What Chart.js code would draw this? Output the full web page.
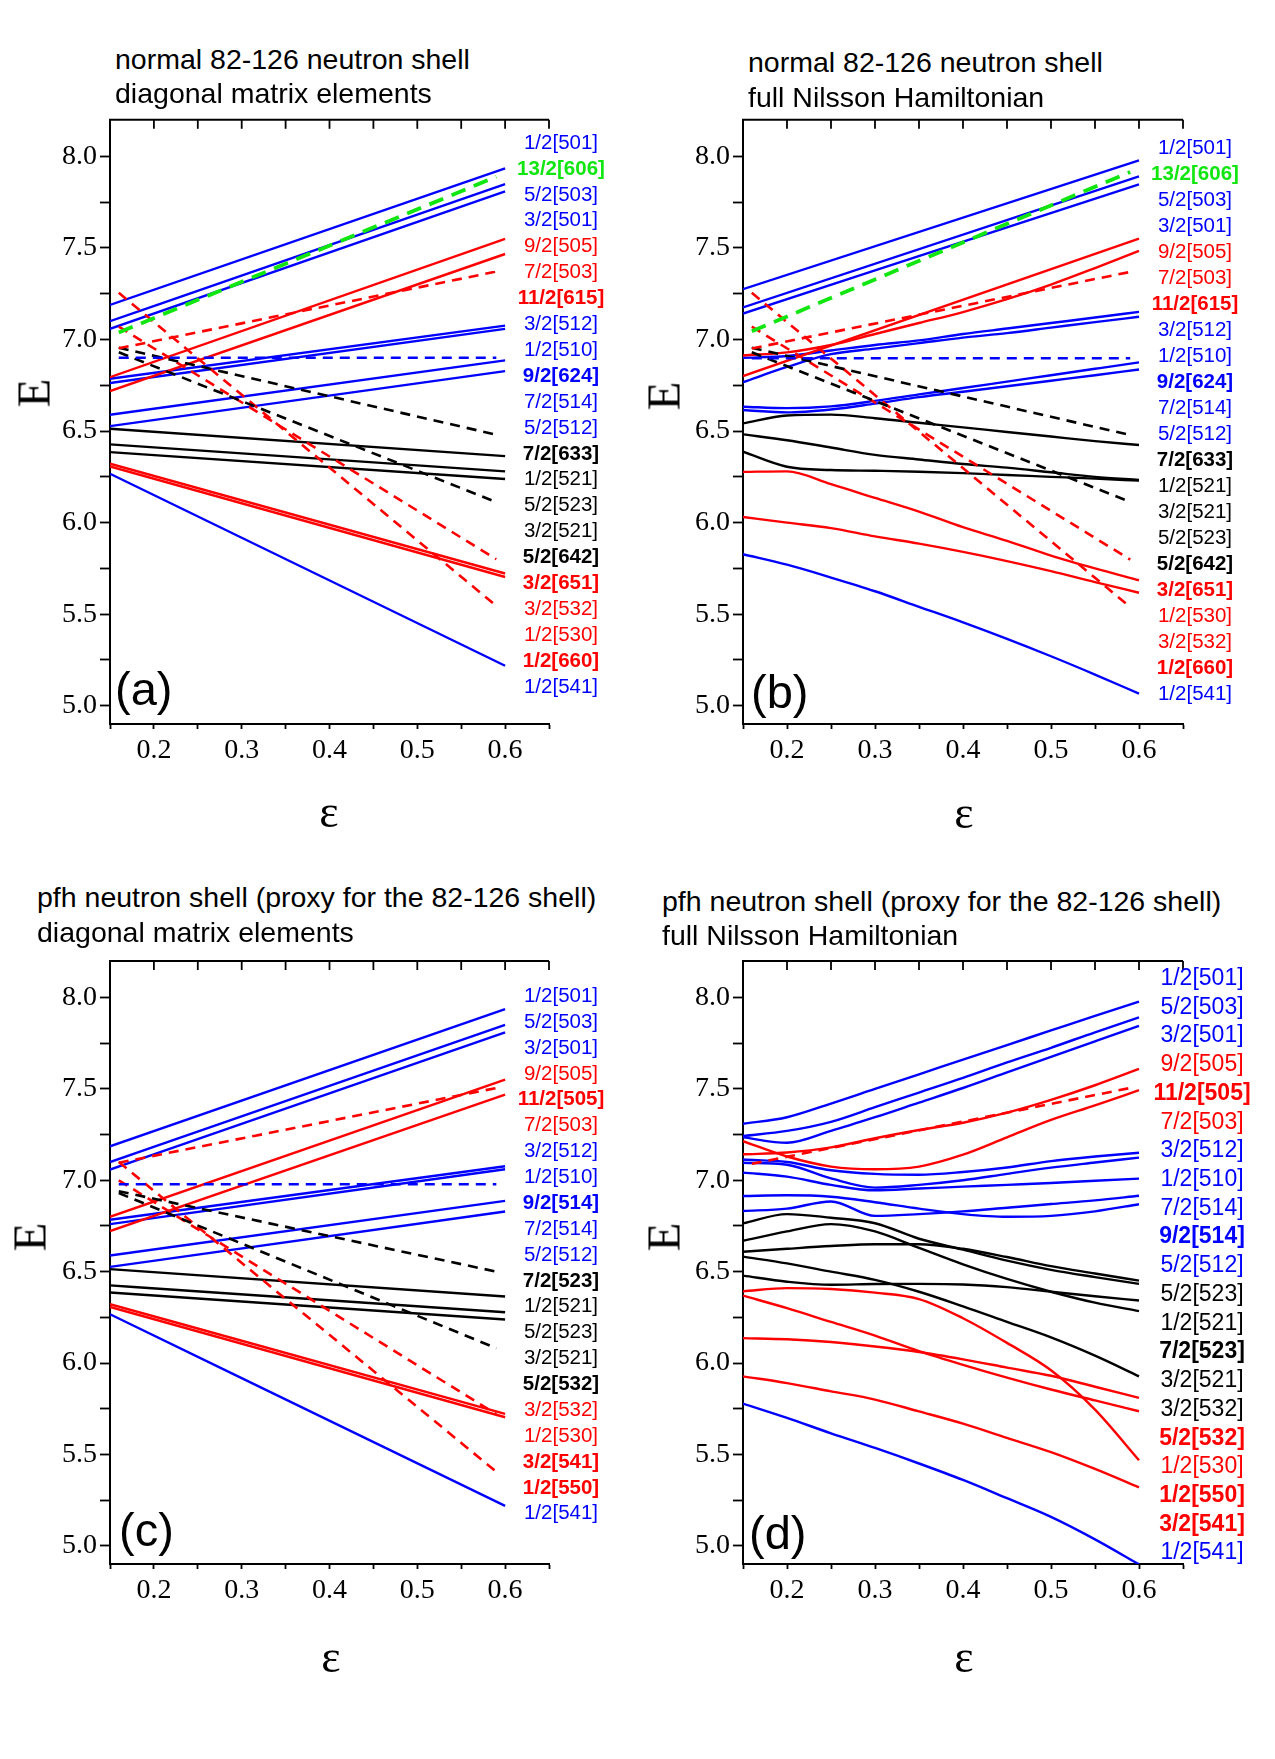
<!DOCTYPE html>
<html>
<head>
<meta charset="utf-8">
<script src="https://cdn.jsdelivr.net/npm/chart.js@4.4.1/dist/chart.umd.min.js"></script>
<style>
  html, body { margin: 0; padding: 0; background: #fff; }
  body { width: 1275px; height: 1759px; position: relative; overflow: hidden;
         font-family: "Liberation Sans", Arial, sans-serif; color: #000; }
  canvas { position: absolute; }
  .t { position: absolute; white-space: nowrap; line-height: 1; }
  .title { font-size: 28.5px; transform: translateY(-50%); }
  .lvl { transform: translate(-50%, -50%); }
  .lvl.b { font-weight: bold; }
  .ylab { font-family: "Liberation Serif", serif; font-size: 47px; transform: translate(-50%, -50%) rotate(-90deg); }
  .xlab { font-family: "Liberation Serif", serif; font-size: 46px; transform: translate(-50%, -50%); }
  .tag { font-size: 47px; transform: translateY(-50%); }
</style>
</head>
<body>
<script>
// deformation grids
const epsEnds = [0.15, 0.60];
const epsIntruder = [0.16, 0.59];
const epsGrid = [0.15, 0.20, 0.25, 0.30, 0.35, 0.40, 0.45, 0.50, 0.55, 0.60];

const xTickLabels = [0.2, 0.3, 0.4, 0.5, 0.6];
const yTickLabels = [5.0, 5.5, 6.0, 6.5, 7.0, 7.5, 8.0];

// (a) normal 82-126 shell, diagonal matrix elements
const labelsA = ['1/2[501]', '13/2[606]', '5/2[503]', '3/2[501]', '9/2[505]', '7/2[503]', '11/2[615]',
  '3/2[512]', '1/2[510]', '9/2[624]', '7/2[514]', '5/2[512]', '7/2[633]', '1/2[521]', '5/2[523]',
  '3/2[521]', '5/2[642]', '3/2[651]', '3/2[532]', '1/2[530]', '1/2[660]', '1/2[541]'];
const energyA = [
  [7.189, 7.935], [7.038, 7.889], [7.100, 7.849], [7.058, 7.809], [6.794, 7.549], [6.718, 7.467],
  [6.952, 7.371], [6.786, 7.076], [6.762, 7.058], [6.900, 6.900], [6.589, 6.886], [6.527, 6.827],
  [6.955, 6.480], [6.513, 6.363], [6.427, 6.280], [6.385, 6.238], [6.930, 6.112], [7.070, 5.800],
  [6.322, 5.722], [6.307, 5.703], [7.255, 5.545], [6.267, 5.218]
];

// (b) normal 82-126 shell, full Nilsson Hamiltonian
const labelsB = ['1/2[501]', '13/2[606]', '5/2[503]', '3/2[501]', '9/2[505]', '7/2[503]', '11/2[615]',
  '3/2[512]', '1/2[510]', '9/2[624]', '7/2[514]', '5/2[512]', '7/2[633]', '1/2[521]', '3/2[521]',
  '5/2[523]', '5/2[642]', '3/2[651]', '1/2[530]', '3/2[532]', '1/2[660]', '1/2[541]'];
const energyB = [
  [7.275, 7.978],
  [7.045, 7.915],
  [7.175, 7.891],
  [7.142, 7.847],
  [6.800, 7.551],
  [6.913, 6.930, 6.970, 7.030, 7.090, 7.150, 7.220, 7.300, 7.390, 7.484],
  [6.951, 7.369],
  [6.900, 6.910, 6.940, 6.970, 6.995, 7.030, 7.060, 7.090, 7.120, 7.151],
  [6.767, 6.850, 6.920, 6.950, 6.980, 7.010, 7.035, 7.065, 7.095, 7.124],
  [6.898, 6.898],
  [6.633, 6.625, 6.635, 6.665, 6.700, 6.735, 6.770, 6.805, 6.840, 6.875],
  [6.615, 6.602, 6.618, 6.650, 6.685, 6.715, 6.745, 6.775, 6.805, 6.836],
  [6.955, 6.478],
  [6.542, 6.585, 6.590, 6.570, 6.545, 6.520, 6.495, 6.470, 6.445, 6.424],
  [6.482, 6.450, 6.410, 6.370, 6.345, 6.320, 6.300, 6.275, 6.250, 6.233],
  [6.387, 6.305, 6.287, 6.283, 6.278, 6.270, 6.260, 6.250, 6.240, 6.229],
  [6.930, 6.113],
  [7.070, 5.798],
  [6.277, 6.280, 6.210, 6.135, 6.060, 5.975, 5.900, 5.820, 5.750, 5.685],
  [6.031, 6.000, 5.970, 5.925, 5.885, 5.840, 5.790, 5.735, 5.675, 5.617],
  [7.255, 5.539],
  [5.827, 5.770, 5.700, 5.625, 5.540, 5.455, 5.365, 5.270, 5.170, 5.066]
];

// (c) pfh proxy shell, diagonal matrix elements
const labelsC = ['1/2[501]', '5/2[503]', '3/2[501]', '9/2[505]', '11/2[505]', '7/2[503]', '3/2[512]',
  '1/2[510]', '9/2[514]', '7/2[514]', '5/2[512]', '7/2[523]', '1/2[521]', '5/2[523]', '3/2[521]',
  '5/2[532]', '3/2[532]', '1/2[530]', '3/2[541]', '1/2[550]', '1/2[541]'];
const energyC = [
  [7.186, 7.936], [7.100, 7.850], [7.059, 7.810], [6.800, 7.551], [7.096, 7.505], [6.722, 7.469],
  [6.784, 7.077], [6.760, 7.060], [6.978, 6.978], [6.588, 6.887], [6.526, 6.829], [6.940, 6.500],
  [6.514, 6.364], [6.425, 6.278], [6.386, 6.238], [6.930, 6.081], [6.322, 5.722], [6.307, 5.703],
  [7.000, 5.720], [7.100, 5.405], [6.267, 5.218]
];

// (d) pfh proxy shell, full Nilsson Hamiltonian
const labelsD = ['1/2[501]', '5/2[503]', '3/2[501]', '9/2[505]', '11/2[505]', '7/2[503]', '3/2[512]',
  '1/2[510]', '7/2[514]', '9/2[514]', '5/2[512]', '5/2[523]', '1/2[521]', '7/2[523]', '3/2[521]',
  '3/2[532]', '5/2[532]', '1/2[530]', '1/2[550]', '3/2[541]', '1/2[541]'];
const energyD = [
  [7.309, 7.345, 7.420, 7.500, 7.580, 7.660, 7.740, 7.820, 7.900, 7.978],
  [7.242, 7.270, 7.320, 7.400, 7.480, 7.560, 7.645, 7.725, 7.810, 7.891],
  [7.235, 7.205, 7.270, 7.345, 7.425, 7.505, 7.590, 7.675, 7.760, 7.845],
  [7.142, 7.152, 7.180, 7.230, 7.275, 7.315, 7.370, 7.440, 7.520, 7.609],
  [7.090, 7.505],
  [7.214, 7.130, 7.075, 7.060, 7.075, 7.140, 7.235, 7.330, 7.410, 7.493],
  [7.114, 7.100, 7.055, 7.035, 7.030, 7.045, 7.070, 7.105, 7.130, 7.151],
  [7.096, 7.085, 7.010, 6.960, 6.975, 7.000, 7.035, 7.069, 7.097, 7.124],
  [7.042, 7.020, 6.975, 6.945, 6.955, 6.965, 6.975, 6.985, 6.997, 7.009],
  [6.914, 6.918, 6.910, 6.880, 6.845, 6.815, 6.800, 6.805, 6.830, 6.869],
  [6.832, 6.845, 6.884, 6.805, 6.815, 6.830, 6.850, 6.870, 6.890, 6.915],
  [6.764, 6.815, 6.795, 6.765, 6.680, 6.620, 6.560, 6.510, 6.470, 6.433],
  [6.609, 6.625, 6.640, 6.650, 6.650, 6.625, 6.580, 6.530, 6.490, 6.451],
  [6.669, 6.720, 6.760, 6.720, 6.630, 6.540, 6.460, 6.390, 6.330, 6.284],
  [6.478, 6.445, 6.428, 6.432, 6.433, 6.430, 6.415, 6.390, 6.365, 6.342],
  [6.582, 6.545, 6.500, 6.455, 6.390, 6.310, 6.225, 6.140, 6.040, 5.927],
  [6.392, 6.410, 6.405, 6.385, 6.350, 6.245, 6.110, 5.960, 5.745, 5.468],
  [6.369, 6.300, 6.225, 6.150, 6.065, 5.990, 5.920, 5.855, 5.795, 5.736],
  [6.136, 6.130, 6.115, 6.090, 6.060, 6.020, 5.975, 5.930, 5.870, 5.809],
  [5.927, 5.890, 5.845, 5.800, 5.735, 5.668, 5.590, 5.512, 5.420, 5.319],
  [5.778, 5.700, 5.615, 5.535, 5.450, 5.360, 5.260, 5.158, 5.035, 4.898]
];

// ---- styling ----
const palette = { b: '#0000ff', r: '#ff0000', k: '#000000', g: '#11e611' };
const colorA = 'bgbbrrrbbbbbkkkkkrrrrb';
const colorC = 'bbbrrrbbbbbkkkkkrrrrb';

// Omega = Lambda + 1/2 and nz + Lambda = N (highest-j orbitals, printed bold)
function isAligned(label) {
  const m = label.match(/^(\d+)\/2\[(\d)(\d)(\d)\]$/);
  const om2 = +m[1], N = +m[2], nz = +m[3], lam = +m[4];
  return om2 === 2 * lam + 1 && nz + lam === N;
}

const panels = [
  { labels: labelsA, energy: energyA, colors: colorA, dashed: isAligned,
    title: ['normal 82-126 neutron shell', 'diagonal matrix elements'], tag: '(a)',
    canvas: [0, 100, 560, 720], area: [110, 119, 549, 724],
    lvl: [561, 141.7, 25.9, 20.5], titleAt: [115, 58.5, 93], eAt: [34, 393], epsAt: [329, 812], tagAt: [115, 688] },
  { labels: labelsB, energy: energyB, colors: colorA, dashed: isAligned,
    title: ['normal 82-126 neutron shell', 'full Nilsson Hamiltonian'], tag: '(b)',
    canvas: [600, 100, 600, 720], area: [743, 119, 1183, 724],
    lvl: [1195, 146.5, 26.0, 20.5], titleAt: [748, 61.5, 96.5], eAt: [664, 396], epsAt: [964, 813], tagAt: [751, 691] },
  { labels: labelsC, energy: energyC, colors: colorC, dashed: isAligned,
    title: ['pfh neutron shell (proxy for the 82-126 shell)', 'diagonal matrix elements'], tag: '(c)',
    canvas: [0, 940, 560, 720], area: [110, 961, 549, 1564],
    lvl: [561, 995, 25.87, 20.5], titleAt: [37, 897, 932], eAt: [30, 1237], epsAt: [331, 1657], tagAt: [119, 1529] },
  { labels: labelsD, energy: energyD, colors: colorC, dashed: l => l === '11/2[505]',
    title: ['pfh neutron shell (proxy for the 82-126 shell)', 'full Nilsson Hamiltonian'], tag: '(d)',
    canvas: [600, 940, 600, 720], area: [743, 961, 1183, 1564],
    lvl: [1202, 977, 28.72, 23], titleAt: [662, 900.5, 935], eAt: [664, 1237], epsAt: [964, 1657], tagAt: [749, 1532] }
];

const topAxis = {
  id: 'topAxis',
  afterDraw(chart) {
    const { ctx, chartArea: a, scales: { x } } = chart;
    ctx.save();
    ctx.strokeStyle = '#000';
    ctx.lineWidth = 2;
    ctx.beginPath();
    ctx.moveTo(a.left - 1, a.top);
    ctx.lineTo(a.right, a.top);
    ctx.stroke();
    ctx.lineWidth = 1.8;
    x.ticks.forEach(t => {
      const px = x.getPixelForValue(t.value);
      ctx.beginPath();
      ctx.moveTo(px, a.top);
      ctx.lineTo(px, a.top + 9);
      ctx.stroke();
    });
    ctx.restore();
  }
};

function addText(cls, text, x, y, extra) {
  const d = document.createElement('div');
  d.className = 't ' + cls;
  d.textContent = text;
  d.style.left = x + 'px';
  d.style.top = y + 'px';
  if (extra) Object.assign(d.style, extra);
  document.body.appendChild(d);
}

const near = (list, v) => list.some(t => Math.abs(t - v) < 1e-6);

panels.forEach(p => {
  const [cl, ct, cw, ch] = p.canvas;
  const [al, at, ar, ab] = p.area;
  const cv = document.createElement('canvas');
  cv.width = cw; cv.height = ch;
  cv.style.left = cl + 'px'; cv.style.top = ct + 'px';
  cv.style.width = cw + 'px'; cv.style.height = ch + 'px';
  document.body.appendChild(cv);

  const datasets = p.labels.map((label, i) => {
    const vals = p.energy[i];
    const dashed = p.dashed(label);
    const xs = vals.length === epsGrid.length ? epsGrid : (dashed ? epsIntruder : epsEnds);
    const col = palette[p.colors[i]];
    const green = p.colors[i] === 'g';
    return {
      label: label,
      data: xs.map((x, j) => ({ x: x, y: vals[j] })),
      showLine: true,
      pointRadius: 0,
      borderColor: col,
      borderWidth: green ? 3.8 : (dashed ? 2.6 : 2.4),
      borderDash: dashed ? (green ? [15, 9] : [10, 7]) : [],
      cubicInterpolationMode: 'monotone',
      fill: false,
      order: dashed ? 0 : 1
    };
  });

  new Chart(cv.getContext('2d'), {
    type: 'scatter',
    data: { datasets: datasets },
    options: {
      responsive: false,
      devicePixelRatio: 1,
      animation: false,
      layout: { padding: { left: 0, top: at - ct, right: cl + cw - ar, bottom: 0 } },
      plugins: { legend: { display: false }, tooltip: { enabled: false } },
      scales: {
        x: {
          type: 'linear', min: 0.15, max: 0.65,
          afterFit: s => { s.height = ct + ch - ab; },
          border: { display: true, color: '#000', width: 2 },
          grid: { drawOnChartArea: false, drawTicks: true, tickLength: 5, tickColor: '#000', tickWidth: 1.8 },
          ticks: {
            stepSize: 0.05, includeBounds: false, autoSkip: false, maxRotation: 0, padding: 5,
            color: '#000', font: { family: 'Liberation Serif', size: 28 },
            callback: v => near(xTickLabels, v) ? v.toFixed(1) : ''
          }
        },
        y: {
          type: 'linear', min: 4.9, max: 8.2,
          afterFit: s => { s.width = al - cl; },
          border: { display: true, color: '#000', width: 2 },
          grid: { drawOnChartArea: false, drawTicks: true, tickLength: 10, tickColor: '#000', tickWidth: 1.8 },
          ticks: {
            stepSize: 0.25, includeBounds: false, autoSkip: false, padding: 3,
            color: '#000', font: { family: 'Liberation Serif', size: 28 },
            callback: v => near(yTickLabels, v) ? v.toFixed(1) : ''
          }
        }
      }
    },
    plugins: [topAxis]
  });

  // panel texts
  addText('title', p.title[0], p.titleAt[0], p.titleAt[1]);
  addText('title', p.title[1], p.titleAt[0], p.titleAt[2]);
  addText('ylab', 'E', p.eAt[0], p.eAt[1]);
  addText('xlab', '\u03b5', p.epsAt[0], p.epsAt[1]);
  addText('tag', p.tag, p.tagAt[0], p.tagAt[1]);

  const [cx, y0, step, size] = p.lvl;
  p.labels.forEach((label, i) => {
    addText('lvl' + (isAligned(label) ? ' b' : ''), label, cx, y0 + i * step,
      { fontSize: size + 'px', color: palette[p.colors[i]] });
  });
});
</script>
</body>
</html>
